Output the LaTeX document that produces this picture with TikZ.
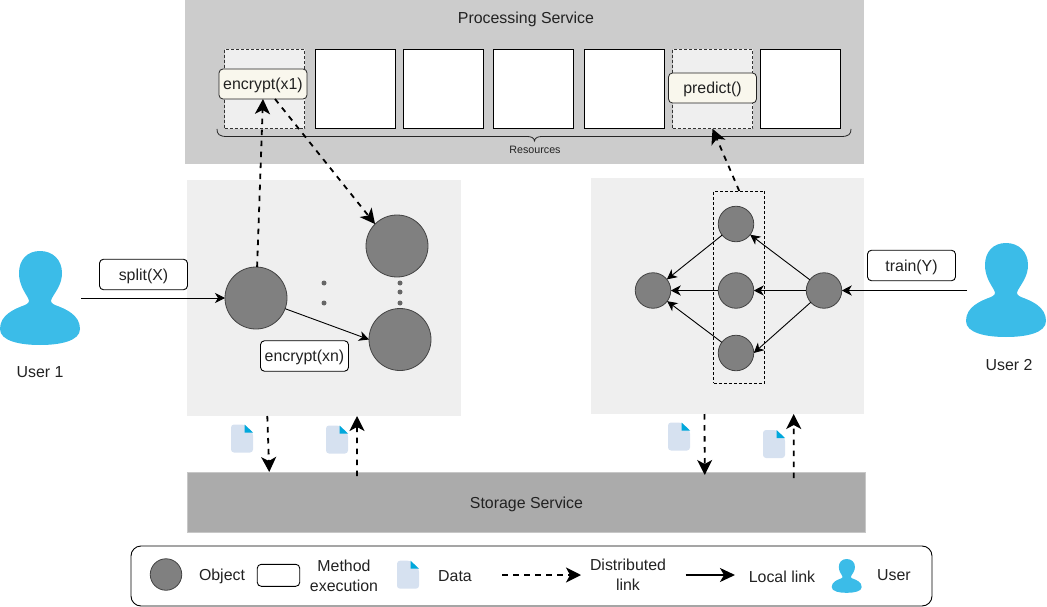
\documentclass[tikz,border=0pt]{standalone}
\usepackage{fontspec}
\setmainfont{Liberation Sans}
\usetikzlibrary{arrows.meta,positioning,calc}
\definecolor{panelgrey}{HTML}{EFEFEF}
\definecolor{procgrey}{HTML}{CCCCCC}
\definecolor{storegrey}{HTML}{ABABAB}
\definecolor{objgrey}{HTML}{808080}
\definecolor{usercyan}{HTML}{3BBCE8}
\definecolor{docblue}{HTML}{D6E1F0}
\definecolor{docfold}{HTML}{00A8DC}
\definecolor{methodfill}{HTML}{F9F7ED}
\definecolor{inkc}{HTML}{222222}
\tikzset{
  every node/.style={font=\fontsize{15.9}{19}\selectfont,text=inkc,inner sep=0pt,outer sep=0pt},
  resbox/.style={draw=black,line width=1pt,fill=white,minimum width=80,minimum height=79.5},
  resdash/.style={draw=black!80,line width=.7pt,dash pattern=on 3pt off 2pt,fill=panelgrey,minimum width=80,minimum height=79.5},
  methodbox/.style={draw=black,line width=.9pt,rounded corners=4pt,fill=white,minimum width=88,minimum height=30.5,text depth=0pt},
  activebox/.style={draw=inkc,line width=.8pt,rounded corners=4pt,fill=methodfill,minimum width=88,minimum height=30,text depth=0pt},
  bigobj/.style={circle,draw=inkc!85,line width=.8pt,fill=objgrey,minimum size=62},
  smallobj/.style={circle,draw=inkc!85,line width=.8pt,fill=objgrey,minimum size=35.5},
  dotobj/.style={circle,fill=black!60,minimum size=5},
  loc/.style={draw=black,line width=.9pt,-{Stealth[length=10pt,width=10pt,inset=3pt]}},
  dist/.style={draw=black,line width=1.8pt,dash pattern=on 5.5pt off 5.5pt,-{Stealth[length=15pt,width=15pt,inset=4pt]}},
  pics/person/.style={code={
    \fill[usercyan] (40,0) .. controls (53,0) and (62,9) .. (62,22)
      .. controls (62,33) and (56,40) .. (52,47)
      .. controls (49.5,51) and (52,52.5) .. (55,54)
      .. controls (66,58) and (80,64) .. (80,78)
      .. controls (80,90) and (60,94) .. (40,94)
      .. controls (20,94) and (0,90) .. (0,78)
      .. controls (0,64) and (14,58) .. (25,54)
      .. controls (28,52.5) and (30.5,51) .. (28,47)
      .. controls (24,40) and (19,33) .. (19,22)
      .. controls (19,9) and (27,0) .. (40,0) -- cycle;
  }},
  pics/docicon/.style={code={
    \fill[docblue,rounded corners=3pt] (0,0) -- (13.5,0) -- (22,8) -- (22,28) -- (0,28) -- cycle;
    \fill[docfold] (13.5,0) -- (22,8) -- (13.5,8) -- cycle;
  }},
}
\begin{document}
\begin{tikzpicture}[x=1pt,y=-1pt]
\useasboundingbox (0,0) rectangle (1047,607);
% service regions
\node[fill=procgrey,minimum width=679,minimum height=164] (proc) at (524.5,82) {};
\node (proctitle) at (526,19) {Processing Service};
\node[fill=panelgrey,minimum width=274,minimum height=236] (panelL) at (324,298) {};
\node[fill=panelgrey,minimum width=273,minimum height=236] (panelR) at (727.5,296) {};
\node[fill=storegrey,draw=black!22,line width=.7pt,minimum width=678,minimum height=60] (store) at (526.75,502) {};
\node (storetitle) at (526.5,504) {Storage Service};
% resources
\node[resdash] (r1) at (264.5,89) {};
\node[resbox] (r2) at (355.5,89) {};
\node[resbox] (r3) at (443.5,89) {};
\node[resbox] (r4) at (533.5,89) {};
\node[resbox] (r5) at (624.5,89) {};
\node[resdash] (r6) at (712.5,89) {};
\node[resbox] (r7) at (800.5,89) {};
\draw[black!85,line width=.8pt] (217,129) .. controls (217,134) and (219,136.5) .. (227,136.5)
  -- (527,136.5) .. controls (531,136.5) and (534,137.5) .. (534.5,141)
  .. controls (535,137.5) and (538,136.5) .. (542,136.5)
  -- (841,136.5) .. controls (849,136.5) and (851,134) .. (851,129);
\node[font=\fontsize{10.7}{12}\selectfont] (reslabel) at (535,149.5) {Resources};
\node[activebox] (enc1) at (263,84) {encrypt(x1)};
\node[activebox] (pred) at (712.5,88) {predict()};
% left objects
\node[bigobj] (A) at (256,298) {};
\node[bigobj] (B) at (397,246) {};
\node[bigobj] (C) at (400,339.5) {};
\node[dotobj] (da) at (324,283) {};
\node[dotobj] (db) at (324,303) {};
\node[dotobj] (dc) at (400,283) {};
\node[dotobj] (dd) at (400,292) {};
\node[dotobj] (de) at (400,303) {};
% right objects
\node[draw=black,line width=.8pt,dash pattern=on 3pt off 2pt,minimum width=51,minimum height=192] (group) at (739.25,287) {};
\node[smallobj] (L) at (653,290.5) {};
\node[smallobj] (M1) at (736,224) {};
\node[smallobj] (M2) at (736,290.5) {};
\node[smallobj] (M3) at (736,353) {};
\node[smallobj] (R) at (824,290.5) {};
% users
\pic at (0,251) {person};
\pic at (966,243) {person};
\node (u1label) at (40,372.5) {User 1};
\node (u2label) at (1009,365.5) {User 2};
\coordinate (u1out) at (81,298);
\coordinate (u2out) at (967,290.5);
% local links
\draw[loc] (u1out) -- (A.west);
\draw[loc] (A) -- (C.west);
\draw[loc] (u2out) -- (R.east);
\draw[loc] (R) -- (M1);
\draw[loc] (R) -- (M2);
\draw[loc] (R) -- (M3.east);
\draw[loc] (M1) -- (L);
\draw[loc] (M2) -- (L);
\draw[loc] (M3) -- (L);
% method labels
\node[methodbox] (split) at (143.5,274.5) {split(X)};
\node[methodbox] (train) at (911.5,265.5) {train(Y)};
\node[methodbox] (encn) at (304.5,356) {encrypt(xn)};
% distributed links
\draw[dist] (A) -- (enc1.south);
\draw[dist] ([xshift=12]enc1.south) -- (B.135);
\draw[dist] (group.north) -- (r6.south);
\draw[dist] ([xshift=-56.7]panelL.south) -- ([xshift=-257.5]store.north);
\draw[dist] ([xshift=-169.7,yshift=-4]store.north) -- ([xshift=33]panelL.south);
\draw[dist] ([xshift=-23]panelR.south) -- ([xshift=178,yshift=-3]store.north);
\draw[dist] ([xshift=267,yshift=-6]store.north) -- ([xshift=66.2]panelR.south);
% data icons
\pic at (231,424.5) {docicon};
\pic at (326,425.5) {docicon};
\pic at (668,422.5) {docicon};
\pic at (763,430) {docicon};
% legend
\node[draw=black,line width=.9pt,rounded corners=10pt,minimum width=801,minimum height=60] (legend) at (531.5,576) {};
\node[circle,draw=inkc!85,line width=.8pt,fill=objgrey,minimum size=31.5] (legobj) at (166,574.5) {};
\node (legobjt) at (222,576) {Object};
\node[draw=black,line width=.9pt,rounded corners=4pt,fill=white,minimum width=42.5,minimum height=22] (legm) at (278.5,575.3) {};
\node[align=center,font=\fontsize{15.9}{20}\selectfont] (legmt) at (344,575.5) {Method\\execution};
\pic at (397,560.7) {docicon};
\node (legdt) at (455,576.5) {Data};
\coordinate (lda) at (502,575);
\coordinate (ldb) at (581,575);
\draw[dist,line width=1.5pt] (lda) -- (ldb);
\node[align=center,font=\fontsize{15.9}{20}\selectfont] (legdl) at (628,574.5) {Distributed\\link};
\coordinate (lla) at (685.7,575);
\coordinate (llb) at (735,575);
\draw[draw=black,line width=1.8pt,-{Stealth[length=15pt,width=14pt,inset=4pt]}] (lla) -- (llb);
\node (legll) at (782,576.5) {Local link};
\begin{scope}[shift={(831.7,559)},x=.375pt,y=-.36pt]
\pic at (0,0) {person};
\end{scope}
\node (legu) at (894,575.5) {User};
\end{tikzpicture}
\end{document}
